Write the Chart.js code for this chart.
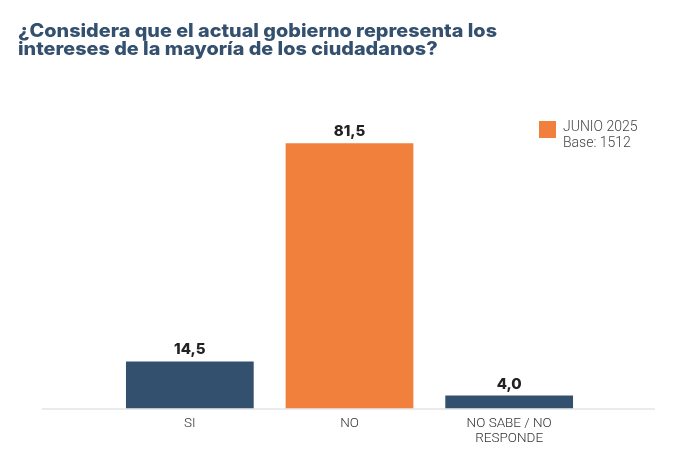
<!DOCTYPE html>
<html>
<head>
<meta charset="utf-8">
<script src="https://cdn.jsdelivr.net/npm/chart.js@4.4.0/dist/chart.umd.min.js"></script>
<style>
  html, body { margin: 0; padding: 0; background: #ffffff; }
  #wrap { width: 699px; height: 466px; position: relative; }
</style>
</head>
<body>
<div id="wrap"><canvas id="myChart"></canvas></div>
<script>
// datos del gráfico
const categorias = [['SI'], ['NO'], ['NO SABE / NO', 'RESPONDE']];
const valores = [14.5, 81.5, 4.0];
const colores = ['#34506f', '#f0803c', '#34506f'];
const serie = 'JUNIO 2025';
const base = 'Base: 1512';
const titulo = ['¿Considera que el actual gobierno representa los', 'intereses de la mayoría de los ciudadanos?'];

// etiquetas de valor sobre las barras
const valueLabels = {
  id: 'valueLabels',
  afterDatasetsDraw(chart) {
    const ctx = chart.ctx;
    const meta = chart.getDatasetMeta(0);
    ctx.save();
    ctx.font = '800 15px Inter';
    ctx.fillStyle = '#222222';
    ctx.textAlign = 'center';
    ctx.textBaseline = 'alphabetic';
    meta.data.forEach(function (bar, i) {
      const txt = valores[i].toFixed(1).replace('.', ',');
      ctx.fillText(txt, bar.x, bar.y - 7);
    });
    ctx.restore();
  }
};

// titulo, linea base y leyenda
const extras = {
  id: 'extras',
  beforeDatasetsDraw(chart) {
    const ctx = chart.ctx;
    const y = chart.scales.y.getPixelForValue(0);
    ctx.save();
    ctx.strokeStyle = '#e4e4e4';
    ctx.lineWidth = 1.5;
    ctx.beginPath();
    ctx.moveTo(42, y + 0.5);
    ctx.lineTo(655, y + 0.5);
    ctx.stroke();
    ctx.restore();
  },
  afterDraw(chart) {
    const ctx = chart.ctx;
    ctx.save();
    // titulo (fuente ancha: se estira un poco en horizontal)
    ctx.font = '800 18.5px Inter';
    ctx.fillStyle = '#34506f';
    ctx.textAlign = 'left';
    ctx.textBaseline = 'alphabetic';
    const sx = 479 / ctx.measureText(titulo[0]).width;
    ctx.save();
    ctx.translate(18, 0);
    ctx.scale(sx, 1);
    ctx.fillText(titulo[0], 0, 37);
    ctx.fillText(titulo[1], 0, 55);
    ctx.restore();
    // leyenda
    ctx.fillStyle = '#f0803c';
    ctx.fillRect(539, 121, 17, 17);
    ctx.font = '300 14px Roboto';
    ctx.fillStyle = '#444444';
    ctx.textBaseline = 'middle';
    ctx.fillText(chart.data.datasets[0].label, 563, 127);
    ctx.fillText(base, 563, 143);
    ctx.restore();
  }
};

const ctx = document.getElementById('myChart');
new Chart(ctx, {
  type: 'bar',
  data: {
    labels: categorias,
    datasets: [{
      label: serie,
      data: valores,
      backgroundColor: colores,
      borderWidth: 0,
      barPercentage: 0.8,
      categoryPercentage: 1.0
    }]
  },
  options: {
    responsive: true,
    maintainAspectRatio: false,
    animation: false,
    layout: { padding: { left: 110, right: 110, top: 83, bottom: 19.7 } },
    plugins: {
      legend: { display: false },
      tooltip: { enabled: false },
      title: { display: false }
    },
    scales: {
      y: { display: false, min: 0, max: 100 },
      x: {
        grid: { display: false },
        border: { display: false },
        ticks: {
          color: '#333333',
          padding: 0,
          font: { family: 'Roboto', size: 13.5, weight: '300', lineHeight: 1.1 }
        }
      }
    }
  },
  plugins: [valueLabels, extras]
});
</script>
</body>
</html>
